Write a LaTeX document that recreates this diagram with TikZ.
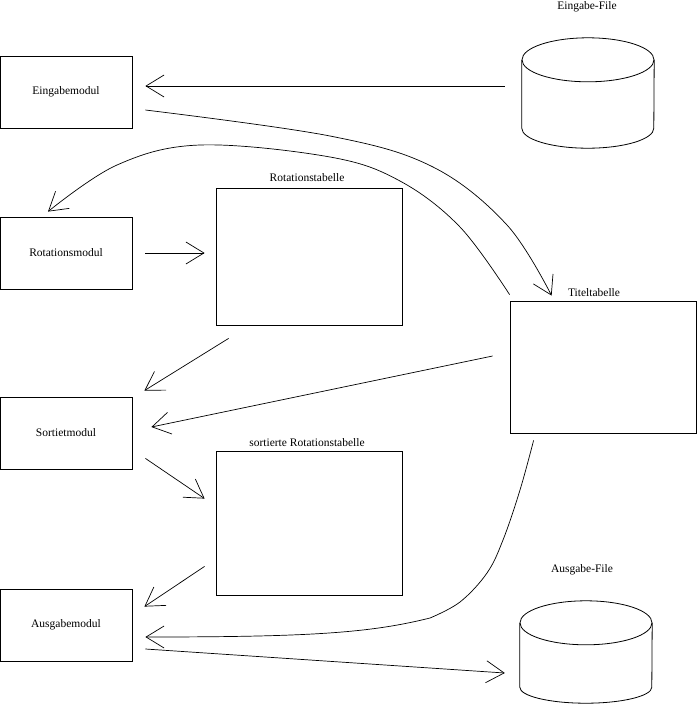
\documentclass[tikz,border=0pt]{standalone}
\usepackage{fontspec}
\setmainfont{Liberation Serif}
\usetikzlibrary{arrows.meta,calc}
\begin{document}
\begin{tikzpicture}[x=1pt,y=-1pt,
  every node/.style={font=\fontsize{11.5}{13}\selectfont},
  box/.style={draw, line width=0.8pt, minimum width=132pt, minimum height=72pt, inner sep=0pt},
  tab/.style={draw, line width=0.8pt, inner sep=0pt},
  ghost/.style={inner sep=0pt},
  lbl/.style={inner sep=0pt, anchor=base},
  arr/.style={line width=0.7pt, -{Straight Barb[length=18pt,width=22pt]}},
  cyl/.style={line width=0.8pt}]
\useasboundingbox (0,0) rectangle (697,713);

% module boxes
\node[box] (ein)  at (66,92)  {Eingabemodul};
\node[box] (rot)  at (66,253) {Rotationsmodul};
\node[box] (sort) at (66,433) {Sortietmodul};
\node[box] (aus)  at (66,625) {Ausgabemodul};

% tables
\node[tab, minimum width=186pt, minimum height=137pt] (rtab) at (309,256.5) {};
\node[tab, minimum width=186pt, minimum height=144pt] (stab) at (309,523) {};
\node[tab, minimum width=186pt, minimum height=132pt] (tit)  at (603,367) {};

% labels
\node[lbl] (rtabl) at (307,181) {Rotationstabelle};
\node[lbl] (stabl) at (307,446) {sortierte Rotationstabelle};
\node[lbl] (titl)  at (594,296) {Titeltabelle};
\node[lbl] (einfl) at (587,9)   {Eingabe-File};
\node[lbl] (ausfl) at (582,572) {Ausgabe-File};

% files (cylinders)
\node[ghost, minimum width=132pt, minimum height=110pt] (einf) at (588,93) {};
\draw[cyl] ($(einf.north)+(0,22)$) ellipse [x radius=66pt, y radius=22pt];
\draw[cyl] ($(einf.north west)+(0,22)$) -- ($(einf.south west)+(0,-20)$)
  arc[start angle=180, end angle=360, x radius=66pt, y radius=20pt]
  -- ($(einf.north east)+(0,22)$);

\node[ghost, minimum width=132pt, minimum height=102pt] (ausf) at (586,652) {};
\draw[cyl] ($(ausf.north)+(0,22)$) ellipse [x radius=66pt, y radius=22pt];
\draw[cyl] ($(ausf.north west)+(0,22)$) -- ($(ausf.south west)+(0,-16)$)
  arc[start angle=180, end angle=360, x radius=66pt, y radius=16pt]
  -- ($(ausf.north east)+(0,22)$);

% connectors
\draw[arr] ([shift={(-17,-7)}]einf.west) -- ([shift={(13,-6)}]ein.east);

\coordinate (c2s) at ([shift={(13,18)}]ein.east);
\coordinate (c2e) at ([shift={(42,-5)}]tit.north west);
\draw[arr] plot[smooth, tension=0.6] coordinates {(c2s) (330,136) (433,167) (507,225) (c2e)};

\coordinate (c3s) at ([shift={(0,-6)}]tit.north west);
\coordinate (c3e) at ([shift={(-18,-5)}]rot.north);
\draw[arr] plot[smooth, tension=0.6] coordinates {(c3s) (460,227) (400,181) (330,157) (200,145) (117,165) (c3e)};

\draw[arr, shorten <=13pt, shorten >=11pt] (rot.east) -- (rot.east -| rtab.west);

\draw[arr] ([shift={(13,13)}]rtab.south west) -- ([shift={(12,-6)}]sort.north east);
\draw[arr] ([shift={(-17,-11)}]tit.west) -- ([shift={(19,-6)}]sort.east);
\draw[arr] ([shift={(13,-11)}]sort.south east) -- ([shift={(-11,48)}]stab.north west);
\draw[arr] ([shift={(-11,-29)}]stab.south west) -- ([shift={(12,18)}]aus.north east);

\coordinate (c9s) at ([shift={(24,7)}]tit.south west);
\coordinate (c9e) at ([shift={(13,12)}]aus.east);
\draw[arr] plot[smooth, tension=0.6] coordinates {(c9s) (520,490) (503,540) (487,573) (460,602) (430,618)}
  .. controls (370,633) and (310,637) .. (c9e);

\draw[arr] ([shift={(13,24)}]aus.east) -- ([shift={(-15,21)}]ausf.west);
\end{tikzpicture}
\end{document}
